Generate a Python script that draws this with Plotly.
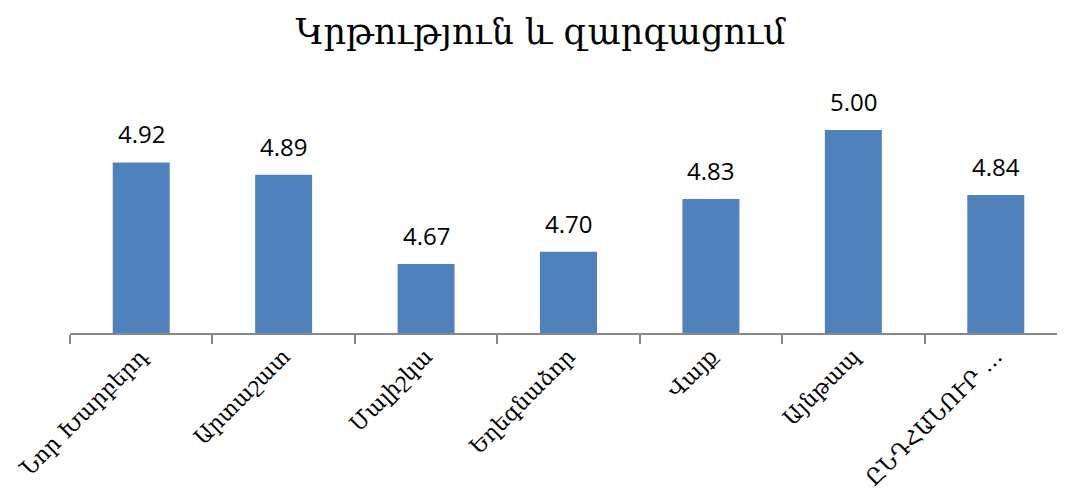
import plotly.graph_objects as go

categories = ["Նոր Խարբերդ", "Արտաշատ", "Մալիշկա", "Եղեգնաձոր", "Վայք", "Այնթապ", "ԸՆԴՀԱՆՈՒՐ …"]
values = [4.92, 4.89, 4.67, 4.70, 4.83, 5.00, 4.84]
value_labels = [f"{v:.2f}" for v in values]
title_text = "Կրթություն և զարգացում"
baseline = 4.5

BAR = "#4F81BD"
AXIS = "#868686"

fig = go.Figure(go.Bar(
    x=categories, y=[v - baseline for v in values], base=baseline,
    marker=dict(color=BAR, line=dict(width=0)),
    width=0.4,
))

for c, v, t in zip(categories, values, value_labels):
    fig.add_annotation(x=c, y=v, text=t, showarrow=False, yanchor="bottom", yshift=10,
                       font=dict(family="Open Sans", size=24, color="#000000"))

fig.update_layout(
    width=1065, height=497,
    margin=dict(l=62, r=6, t=72, b=172, autoexpand=False),
    paper_bgcolor="white", plot_bgcolor="white",
    title=dict(text=title_text, x=0.5, xanchor="center", y=0.953, yanchor="middle",
               font=dict(family="DejaVu Serif", size=35, color="#000000")),
    showlegend=False,
)
fig.update_xaxes(
    type="category", range=[-0.5, 6.5], automargin=False,
    showline=True, linecolor=AXIS, linewidth=1.5,
    ticks="outside", tickson="boundaries", ticklen=9, tickcolor=AXIS, tickwidth=1.5,
    tickangle=-45, showgrid=False,
    tickfont=dict(family="DejaVu Serif", size=22, color="#000000"),
)
fig.update_yaxes(range=[baseline, 5.1232], visible=False, showgrid=False, automargin=False)

fig.write_html("out.html")
